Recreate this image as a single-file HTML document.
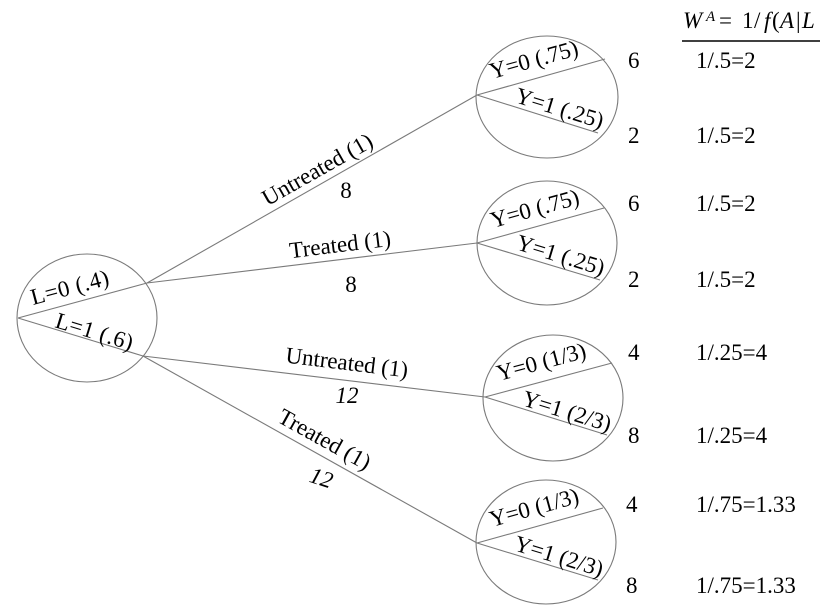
<!DOCTYPE html>
<html>
<head>
<meta charset="utf-8">
<style>
  html,body{margin:0;padding:0;background:#fff;}
  svg{display:block;}
  text{font-family:"Liberation Serif","Times New Roman",serif;font-size:23px;fill:#000;}
</style>
</head>
<body>
<svg width="820" height="611" viewBox="0 0 820 611" xmlns="http://www.w3.org/2000/svg">
  <g fill="none" stroke="#7a7a7a" stroke-width="1.1">
    <!-- circles -->
    <ellipse cx="87" cy="318" rx="70" ry="64"/>
    <ellipse cx="547" cy="97" rx="71" ry="61"/>
    <ellipse cx="547" cy="243" rx="70" ry="62"/>
    <ellipse cx="553" cy="398" rx="70" ry="63"/>
    <ellipse cx="546" cy="542" rx="70" ry="62"/>
    <!-- L node split -->
    <line x1="18" y1="318" x2="147" y2="283"/>
    <line x1="18" y1="318" x2="143" y2="356"/>
    <!-- main edges -->
    <line x1="147" y1="283" x2="477" y2="95"/>
    <line x1="147" y1="283" x2="477" y2="243"/>
    <line x1="143" y1="356" x2="485" y2="397"/>
    <line x1="143" y1="356" x2="477" y2="543"/>
    <!-- Y node splits -->
    <line x1="477" y1="95" x2="605" y2="59"/>
    <line x1="477" y1="95" x2="598" y2="133"/>
    <line x1="477" y1="243" x2="604" y2="208"/>
    <line x1="477" y1="243" x2="600" y2="280"/>
    <line x1="485" y1="397" x2="612" y2="363"/>
    <line x1="485" y1="397" x2="607" y2="435"/>
    <line x1="477" y1="543" x2="603" y2="508"/>
    <line x1="477" y1="543" x2="598" y2="580"/>
  </g>

  <!-- L labels -->
  <text transform="translate(33,305) rotate(-15)" textLength="80" lengthAdjust="spacing">L=0 (.4)</text>
  <text transform="translate(54,327) rotate(17)" textLength="80" lengthAdjust="spacing">L=1 (.6)</text>

  <!-- edge labels -->
  <text transform="translate(321,176) rotate(-29.5)" text-anchor="middle">Untreated (1)</text>
  <text x="346" y="198" text-anchor="middle">8</text>
  <text transform="translate(341,252) rotate(-7)" text-anchor="middle">Treated (1)</text>
  <text x="351" y="292" text-anchor="middle">8</text>
  <text transform="translate(346,370) rotate(7)" text-anchor="middle">Untreated (1)</text>
  <text x="347" y="403" text-anchor="middle" font-style="italic">12</text>
  <text transform="translate(321,446) rotate(29)" text-anchor="middle">Treated (1)</text>
  <text transform="translate(319,485) rotate(18)" text-anchor="middle" font-style="italic">12</text>

  <!-- Y labels -->
  <text transform="translate(492,79) rotate(-15.5)">Y=0 (.75)</text>
  <text transform="translate(514,102) rotate(17)">Y=1 (.25)</text>
  <text transform="translate(493,228) rotate(-15.5)">Y=0 (.75)</text>
  <text transform="translate(515,249) rotate(17)">Y=1 (.25)</text>
  <text transform="translate(499,381) rotate(-15)">Y=0 (1/3)</text>
  <text transform="translate(521,405) rotate(17)">Y=1 (2/3)</text>
  <text transform="translate(492,527) rotate(-15.5)">Y=0 (1/3)</text>
  <text transform="translate(513,550) rotate(17)">Y=1 (2/3)</text>

  <!-- counts -->
  <text x="628" y="68">6</text>
  <text x="628" y="143">2</text>
  <text x="628" y="211">6</text>
  <text x="628" y="287">2</text>
  <text x="628" y="360">4</text>
  <text x="628" y="443">8</text>
  <text x="626" y="512">4</text>
  <text x="626" y="593">8</text>

  <!-- weights -->
  <text x="696" y="68">1/.5=2</text>
  <text x="696" y="143">1/.5=2</text>
  <text x="696" y="211">1/.5=2</text>
  <text x="696" y="287">1/.5=2</text>
  <text x="696" y="360">1/.25=4</text>
  <text x="696" y="443">1/.25=4</text>
  <text x="696" y="512">1/.75=1.33</text>
  <text x="696" y="593">1/.75=1.33</text>

  <!-- header -->
  <text x="683" y="28" font-style="italic">W</text>
  <text x="706" y="21" font-style="italic" style="font-size:15px">A</text>
  <text x="719" y="28">=</text>
  <text x="742" y="28">1</text>
  <text x="754" y="28">/</text>
  <text x="764" y="28" font-style="italic">f</text>
  <text x="772" y="28">(</text>
  <text x="780" y="28" font-style="italic">A</text>
  <text x="796" y="28">|</text>
  <text x="802" y="28" font-style="italic">L</text>
  <line x1="682" y1="41" x2="820" y2="41" stroke="#000" stroke-width="1.4"/>
</svg>
</body>
</html>
